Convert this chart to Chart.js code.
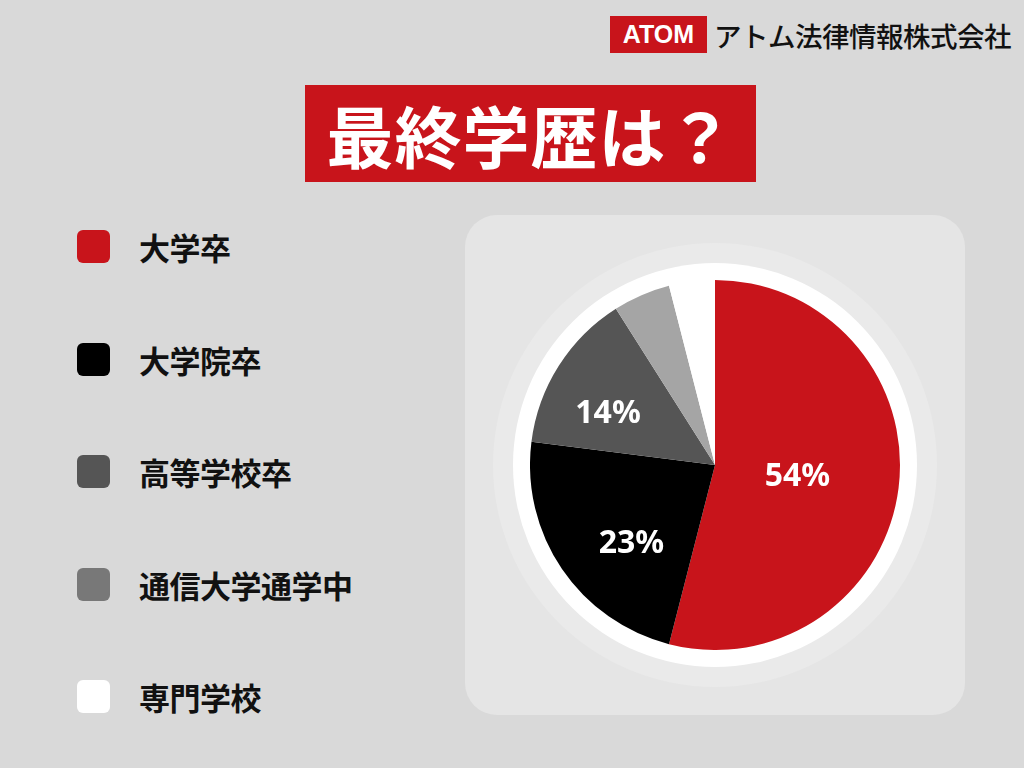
<!DOCTYPE html>
<html lang="ja">
<head>
<meta charset="utf-8">
<script src="https://cdn.jsdelivr.net/npm/chart.js@4/dist/chart.umd.min.js"></script>
<style>
  html, body { margin: 0; padding: 0; }
  body { width: 1024px; height: 768px; background: #d9d9d9; position: relative; overflow: hidden;
         font-family: "Noto Sans CJK JP", "Noto Sans", sans-serif; }
  .brand { position: absolute; left: 610px; top: 16px; height: 37px; display: flex; align-items: center; }
  .brand .atom { background: #c8141b; color: #fff; font: 900 25px "Liberation Sans", Arial, sans-serif;
                 height: 37px; width: 97px; display: flex; align-items: center; justify-content: center; }
  .brand .name { margin-left: 7px; font-size: 27.5px; font-weight: 500; color: #111; letter-spacing: -0.5px; }
  .title { position: absolute; left: 305px; top: 85px; width: 451px; height: 97px; background: #c8141b;
           color: #fff; font-size: 67px; font-weight: 700; display: flex; align-items: center; justify-content: center;
           letter-spacing: 1px; }
  .legend { position: absolute; left: 77px; top: 0; }
  .legend .row { position: absolute; left: 0; display: flex; align-items: center; white-space: nowrap; }
  .legend .box { width: 33px; height: 33px; border-radius: 6px; }
  .legend .lbl { margin-left: 29px; font-size: 31px; font-weight: 700; color: #111; letter-spacing: -0.5px; }
  .panel { position: absolute; left: 465px; top: 215px; width: 500px; height: 500px; background: #e5e5e5; border-radius: 32px; }
  .ring1 { position: absolute; left: 493px; top: 243px; width: 444px; height: 444px; border-radius: 50%; background: #eaeaea; }
  .ring2 { position: absolute; left: 513px; top: 263px; width: 404px; height: 404px; border-radius: 50%; background: #fff; }
  .pie { position: absolute; left: 530px; top: 280px; width: 370px; height: 370px; }
</style>
</head>
<body>
<div class="brand"><div class="atom">ATOM</div><div class="name">アトム法律情報株式会社</div></div>
<div class="title">最終学歴は？</div>
<div class="legend" id="legend"></div>
<div class="panel"></div>
<div class="ring1"></div>
<div class="ring2"></div>
<div class="pie"><canvas id="pie" width="370" height="370"></canvas></div>
<script>
const categories = ["大学卒", "大学院卒", "高等学校卒", "通信大学通学中", "専門学校"];
const shares = [54, 23, 14, 5, 4];
const sliceColors = ["#c8141b", "#000000", "#555555", "#a5a5a5", "#ffffff"];
const legendColors = ["#c8141b", "#000000", "#555555", "#787878", "#ffffff"];
const shownLabels = ["54%", "23%", "14%", "", ""];

const $ = (s) => document.querySelector(s);

// 凡例
$("#legend").innerHTML = categories.map((c, i) => `
  <div class="row" style="top:${224 + i * 112.5}px">
    <span class="box" style="background:${legendColors[i]}"></span>
    <span class="lbl">${c}</span>
  </div>`).join("");

// ラベル位置の微調整 [半径比, 角度ずれ(度)]
const labelTweak = [[0.45, 1], [0.62, -9], [0.64, -7]];

const pctLabels = {
  id: "pctLabels",
  afterDatasetsDraw(chart) {
    const ctx = chart.ctx;
    const meta = chart.getDatasetMeta(0);
    ctx.save();
    ctx.fillStyle = "#fff";
    ctx.font = "700 32px 'Noto Sans', sans-serif";
    ctx.textAlign = "center";
    ctx.textBaseline = "middle";
    meta.data.forEach((arc, i) => {
      if (!shownLabels[i]) return;
      const t = labelTweak[i] || [0.6, 0];
      const a = (arc.startAngle + arc.endAngle) / 2 + t[1] * Math.PI / 180;
      const r = arc.outerRadius * t[0];
      ctx.fillText(shownLabels[i], arc.x + Math.cos(a) * r, arc.y + Math.sin(a) * r);
    });
    ctx.restore();
  }
};

new Chart($("#pie"), {
  type: "pie",
  data: {
    labels: categories,
    datasets: [{ data: shares, backgroundColor: sliceColors, borderWidth: 0, hoverOffset: 0 }]
  },
  options: {
    responsive: false,
    animation: false,
    layout: { padding: 0 },
    plugins: { legend: { display: false }, tooltip: { enabled: false } }
  },
  plugins: [pctLabels]
});
</script>
</body>
</html>
